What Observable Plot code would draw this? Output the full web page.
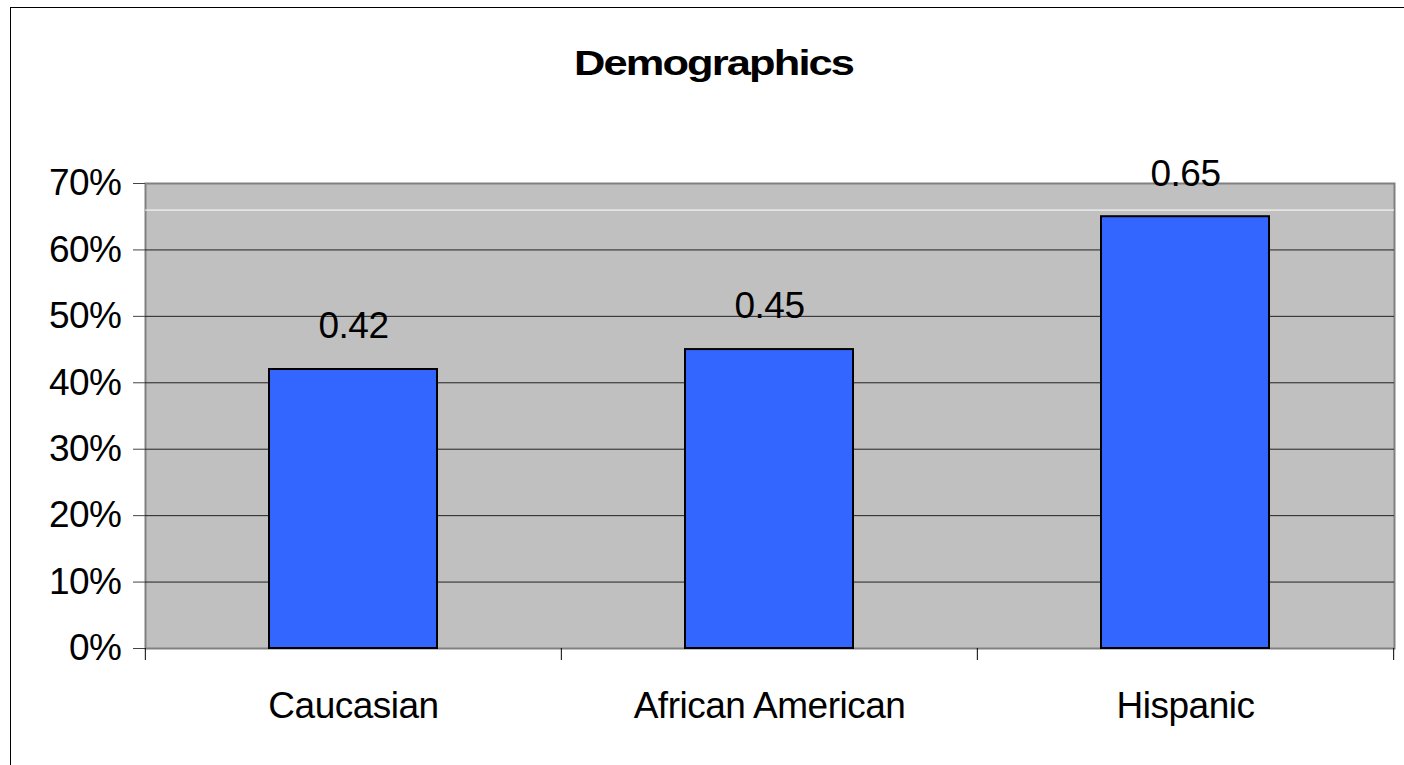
<!DOCTYPE html>
<html>
<head>
<meta charset="utf-8">
<script src="https://cdn.jsdelivr.net/npm/d3@7"></script>
<script src="https://cdn.jsdelivr.net/npm/@observablehq/plot@0.6"></script>
<style>
  html, body { margin: 0; padding: 0; background: #fff; overflow: hidden; }
  body { width: 1404px; height: 765px; position: relative; font-family: "Liberation Sans", Arial, sans-serif; }
  #frame {
    position: absolute; left: 10px; top: 7px; width: 1500px; height: 900px;
    border-left: 1px solid #000; border-top: 1px solid #000; box-sizing: border-box;
  }
  #title {
    position: absolute; left: 0; width: 1428px; top: 44px; text-align: center;
    font-weight: bold; font-size: 35px; line-height: 38px; letter-spacing: -1.5px; color: #000;
  }
  #title span { display: inline-block; transform: scaleX(1.24); }
  #chart { position: absolute; left: 0; top: 100px; }
</style>
</head>
<body>
<div id="frame"></div>
<div id="title"><span>Demographics</span></div>
<div id="chart"></div>
<script>
// Share of each group
const categories = ["Caucasian", "African American", "Hispanic"];
const shares = [0.42, 0.45, 0.65];
const valueLabels = ["0.42", "0.45", "0.65"];
const yTicks = [0, 0.1, 0.2, 0.3, 0.4, 0.5, 0.6, 0.7];
const highlightLine = [0.66];

const rows = categories.map((c, i) => ({category: c, share: shares[i], label: valueLabels[i]}));

const width = 1404, height = 665;
const marginLeft = 145, marginRight = 10, marginTop = 83, marginBottom = 117;
const step = (width - marginLeft - marginRight) / categories.length;

const chart = Plot.plot({
  width, height, marginLeft, marginRight, marginTop, marginBottom,
  style: {fontFamily: "'Liberation Sans', Arial, sans-serif", fontSize: "37px", color: "#000", background: "transparent", letterSpacing: "-0.5px"},
  x: {domain: categories, paddingInner: 0.595, paddingOuter: 0.2975, axis: null},
  y: {domain: [0, 0.7], axis: null},
  marks: [
    Plot.frame({fill: "#c0c0c0", stroke: "#808080", strokeWidth: 2}),
    Plot.ruleY(yTicks.slice(1, -1), {stroke: "#222", strokeWidth: 1}),
    Plot.ruleY(highlightLine, {stroke: "#fff", strokeWidth: 1}),
    Plot.barY(rows, {x: "category", y: "share", fill: "#3366ff", stroke: "#000", strokeWidth: 2}),
    Plot.text(rows, {x: "category", y: "share", text: "label", dy: -43, fontSize: 37, fill: "#000"}),
    Plot.axisY(yTicks, {tickSize: 12, tickPadding: 12, tickFormat: d3.format(".0%"), label: null, line: true, stroke: "#444"}),
    Plot.axisX({tickSize: 0, tickPadding: 43, label: null, line: true, stroke: "#555"}),
    Plot.axisX(categories, {tickSize: 12, tickFormat: () => "", label: null, dx: -step / 2, stroke: "#000"}),
    Plot.axisX(categories.slice(-1), {tickSize: 12, tickFormat: () => "", label: null, dx: step / 2, stroke: "#000"})
  ]
});
document.getElementById("chart").appendChild(chart);
</script>
</body>
</html>
